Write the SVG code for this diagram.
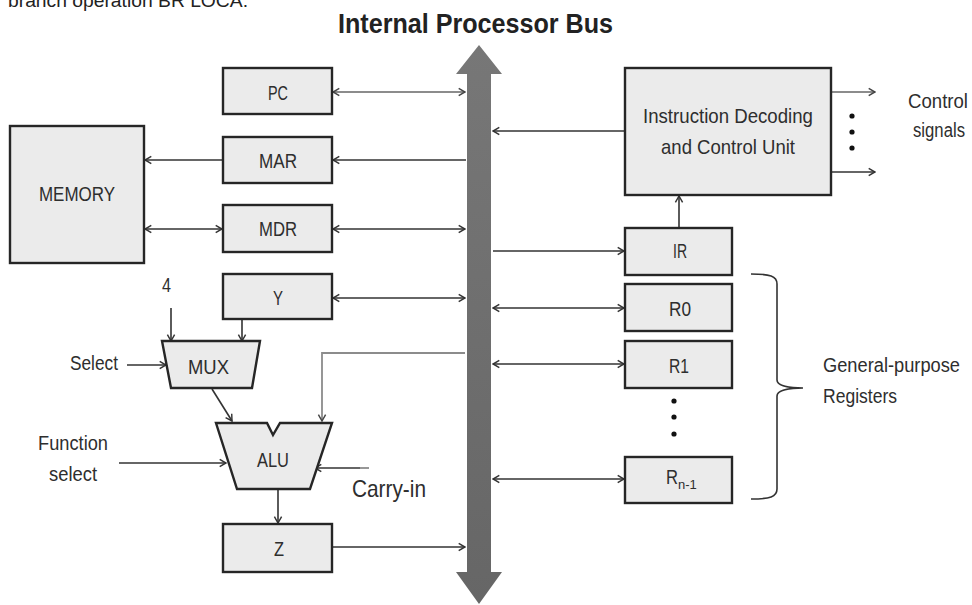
<svg xmlns="http://www.w3.org/2000/svg" width="972" height="605" viewBox="0 0 972 605">
  <defs>
    <style>
      .box { fill: #ebebeb; stroke: #262626; stroke-width: 2.4; }
      .lbl { font-family: "Liberation Sans", Arial, sans-serif; font-size: 21px; fill: #2e2e2e; }
      .side { font-family: "Liberation Sans", Arial, sans-serif; font-size: 20px; fill: #2e2e2e; }
      .wire { fill: none; stroke: #333; stroke-width: 1.6; }
      .wire-lt { fill: none; stroke: #8c8c8c; stroke-width: 1.8; }
      .dot { fill: #111; }
    </style>
    <marker id="ah" viewBox="0 0 10 10" refX="9" refY="5" markerWidth="9" markerHeight="10" markerUnits="userSpaceOnUse" orient="auto-start-reverse">
      <path d="M2,1 L9,5 L2,9" fill="none" stroke="#333" stroke-width="1.6"/>
    </marker>
    <marker id="ah-lt" viewBox="0 0 10 10" refX="9" refY="5" markerWidth="9" markerHeight="10" markerUnits="userSpaceOnUse" orient="auto-start-reverse">
      <path d="M2,1 L9,5 L2,9" fill="none" stroke="#444" stroke-width="1.6"/>
    </marker>
    <linearGradient id="busFill" x1="0" y1="0" x2="0" y2="1">
      <stop offset="0" stop-color="#777"/>
      <stop offset="1" stop-color="#666"/>
    </linearGradient>
  </defs>

  <!-- running text above the figure -->
  <text x="8" y="7" font-family="Liberation Sans, Arial, sans-serif" font-size="18" fill="#222" textLength="240" lengthAdjust="spacingAndGlyphs">branch operation BR LOCA.</text>

  <!-- title -->
  <text x="338" y="33" font-family="Liberation Sans, Arial, sans-serif" font-size="27" font-weight="bold" fill="#222" textLength="275" lengthAdjust="spacingAndGlyphs">Internal Processor Bus</text>

  <!-- internal bus: double-headed thick arrow -->
  <g id="bus">
    <path d="M479,45 L502,74 L491,74 L491,572 L502,572 L479,604 L456,572 L467,572 L467,74 L456,74 Z" fill="url(#busFill)"/>
  </g>

  <!-- connectors -->
  <g id="connectors">
    <!-- PC <-> bus -->
    <line class="wire-lt" x1="333" y1="92" x2="465" y2="92" marker-start="url(#ah-lt)" marker-end="url(#ah-lt)"/>
    <!-- bus -> MAR -> memory -->
    <line class="wire" x1="466" y1="160" x2="333" y2="160" marker-end="url(#ah)"/>
    <line class="wire" x1="223" y1="160" x2="145" y2="160" marker-end="url(#ah)"/>
    <!-- memory <-> MDR <-> bus -->
    <line class="wire" x1="145" y1="229" x2="222" y2="229" marker-start="url(#ah)" marker-end="url(#ah)"/>
    <line class="wire" x1="333" y1="229" x2="465" y2="229" marker-start="url(#ah)" marker-end="url(#ah)"/>
    <!-- Y <-> bus -->
    <line class="wire" x1="333" y1="298" x2="465" y2="298" marker-start="url(#ah)" marker-end="url(#ah)"/>
    <!-- Y -> MUX, constant 4 -> MUX -->
    <line class="wire" x1="242" y1="320" x2="242" y2="341" marker-end="url(#ah)"/>
    <line class="wire" x1="171" y1="308" x2="171" y2="341" marker-end="url(#ah)"/>
    <!-- select -> MUX -->
    <line class="wire" x1="127" y1="365" x2="166" y2="365" marker-end="url(#ah)"/>
    <!-- MUX -> ALU -->
    <line class="wire" x1="212" y1="389" x2="232" y2="421" marker-end="url(#ah)"/>
    <!-- bus -> ALU -->
    <polyline class="wire-lt" points="465,353 322,353 322,421" marker-end="url(#ah-lt)"/>
    <!-- function select -> ALU -->
    <line class="wire" x1="119" y1="463" x2="226" y2="463" marker-end="url(#ah)"/>
    <!-- carry-in -> ALU -->
    <line class="wire" x1="360" y1="468" x2="315" y2="468" marker-end="url(#ah)"/>
    <line class="wire-lt" x1="360" y1="468" x2="369" y2="468"/>
    <!-- ALU -> Z -> bus -->
    <line class="wire" x1="278" y1="490" x2="278" y2="523" marker-end="url(#ah)"/>
    <line class="wire" x1="333" y1="547" x2="465" y2="547" marker-end="url(#ah)"/>
    <!-- control unit -> bus -->
    <line class="wire" x1="625" y1="131" x2="493" y2="131" marker-end="url(#ah)"/>
    <!-- control signals out -->
    <line class="wire-lt" x1="832" y1="92" x2="875" y2="92" marker-end="url(#ah-lt)"/>
    <line class="wire" x1="832" y1="172" x2="875" y2="172" marker-end="url(#ah)"/>
    <!-- IR -> control unit -->
    <line class="wire" x1="679" y1="227" x2="679" y2="196" marker-end="url(#ah)"/>
    <!-- bus -> IR -->
    <line class="wire" x1="493" y1="251" x2="624" y2="251" marker-end="url(#ah)"/>
    <!-- bus <-> general-purpose registers -->
    <line class="wire" x1="493" y1="308" x2="624" y2="308" marker-start="url(#ah)" marker-end="url(#ah)"/>
    <line class="wire" x1="493" y1="364" x2="624" y2="364" marker-start="url(#ah)" marker-end="url(#ah)"/>
    <line class="wire" x1="493" y1="479" x2="624" y2="479" marker-start="url(#ah)" marker-end="url(#ah)"/>
    <!-- brace grouping the registers -->
    <path class="wire" d="M751,274 C770,274 777,276 777,284 L777,380 C777,386 790,388 803,388 C790,388 777,390 777,396 L777,489 C777,497 770,499 751,499"/>
  </g>

  <g id="memory">
    <rect class="box" x="10" y="126" width="134" height="137"/>
    <text class="lbl" x="39" y="201" textLength="76" lengthAdjust="spacingAndGlyphs">MEMORY</text>
  </g>

  <g id="pc">
    <rect class="box" x="223" y="68" width="109" height="46"/>
    <text class="lbl" x="268" y="100" textLength="20" lengthAdjust="spacingAndGlyphs">PC</text>
  </g>

  <g id="mar">
    <rect class="box" x="223" y="137" width="109" height="46"/>
    <text class="lbl" x="259" y="168" textLength="38" lengthAdjust="spacingAndGlyphs">MAR</text>
  </g>

  <g id="mdr">
    <rect class="box" x="223" y="205" width="109" height="47"/>
    <text class="lbl" x="259" y="236" textLength="38" lengthAdjust="spacingAndGlyphs">MDR</text>
  </g>

  <g id="y">
    <rect class="box" x="223" y="274" width="109" height="45"/>
    <text class="lbl" x="273" y="305" textLength="10" lengthAdjust="spacingAndGlyphs">Y</text>
  </g>

  <g id="const4">
    <text class="lbl" x="162" y="292" textLength="9" lengthAdjust="spacingAndGlyphs">4</text>
  </g>

  <g id="select">
    <text class="side" x="70" y="370" textLength="48" lengthAdjust="spacingAndGlyphs">Select</text>
  </g>

  <g id="mux">
    <polygon class="box" points="162,341 260,341 252,388 171,388"/>
    <text class="lbl" x="188" y="374" textLength="41" lengthAdjust="spacingAndGlyphs">MUX</text>
  </g>

  <g id="function-select">
    <text class="side" x="38" y="450" textLength="70" lengthAdjust="spacingAndGlyphs">Function</text>
    <text class="side" x="49" y="481" textLength="48" lengthAdjust="spacingAndGlyphs">select</text>
  </g>

  <g id="alu">
    <polygon class="box" points="216,423 267,423 273,435 280,423 332,423 310,489 237,489"/>
    <text class="lbl" x="257" y="467" textLength="32" lengthAdjust="spacingAndGlyphs">ALU</text>
  </g>

  <g id="carry-in">
    <text x="352" y="497" font-family="Liberation Sans, Arial, sans-serif" font-size="24" fill="#2e2e2e" textLength="74" lengthAdjust="spacingAndGlyphs">Carry-in</text>
  </g>

  <g id="z">
    <rect class="box" x="223" y="524" width="109" height="48"/>
    <text class="lbl" x="274" y="556" textLength="10" lengthAdjust="spacingAndGlyphs">Z</text>
  </g>

  <g id="control-unit">
    <rect class="box" x="625" y="68" width="206" height="127"/>
    <text class="lbl" x="643" y="123" textLength="170" lengthAdjust="spacingAndGlyphs">Instruction Decoding</text>
    <text class="lbl" x="661" y="154" textLength="134" lengthAdjust="spacingAndGlyphs">and Control Unit</text>
  </g>

  <g id="control-signals">
    <circle class="dot" cx="852" cy="116" r="2.6"/>
    <circle class="dot" cx="852" cy="132" r="2.6"/>
    <circle class="dot" cx="852" cy="148" r="2.6"/>
    <text class="side" x="908" y="108" font-size="18" textLength="60" lengthAdjust="spacingAndGlyphs">Control</text>
    <text class="side" x="913" y="137" font-size="18" textLength="52" lengthAdjust="spacingAndGlyphs">signals</text>
  </g>

  <g id="ir">
    <rect class="box" x="625" y="228" width="107" height="47"/>
    <text class="lbl" x="673" y="258" textLength="14" lengthAdjust="spacingAndGlyphs">IR</text>
  </g>

  <g id="r0">
    <rect class="box" x="625" y="284" width="107" height="47"/>
    <text class="lbl" x="669" y="316" textLength="22" lengthAdjust="spacingAndGlyphs">R0</text>
  </g>

  <g id="r1">
    <rect class="box" x="625" y="341" width="107" height="47"/>
    <text class="lbl" x="669" y="373" textLength="20" lengthAdjust="spacingAndGlyphs">R1</text>
  </g>

  <g id="reg-ellipsis">
    <circle class="dot" cx="674" cy="401" r="2.6"/>
    <circle class="dot" cx="674" cy="417" r="2.6"/>
    <circle class="dot" cx="674" cy="434" r="2.6"/>
  </g>

  <g id="rn-1">
    <rect class="box" x="625" y="457" width="107" height="46"/>
    <text class="lbl" x="666" y="484"><tspan textLength="12" lengthAdjust="spacingAndGlyphs">R</tspan><tspan font-size="13" dy="5">n-1</tspan></text>
  </g>

  <g id="gpr-label">
    <text class="side" x="823" y="372" textLength="137" lengthAdjust="spacingAndGlyphs">General-purpose</text>
    <text class="side" x="823" y="403" textLength="74" lengthAdjust="spacingAndGlyphs">Registers</text>
  </g>
</svg>
